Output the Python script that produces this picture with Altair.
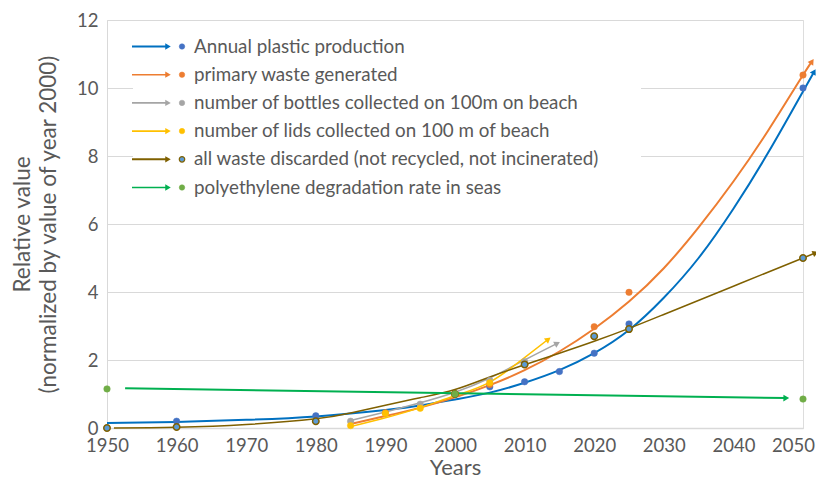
import math
import altair as alt
import pandas as pd

# ---------------- data ----------------
series = [
    "Annual plastic production",
    "primary waste generated",
    "number of bottles collected on 100m on beach",
    "number of lids collected on 100 m of beach",
    "all waste discarded (not recycled, not incinerated)",
    "polyethylene degradation rate in seas",
]
line_colors = ["#0070C0", "#ED7D31", "#A5A5A5", "#FFC000", "#7F6000", "#00B050"]
point_fills = ["#4472C4", "#ED7D31", "#A5A5A5", "#FFC000", "#5B9BD5", "#70AD47"]
point_strokes = ["#4472C4", "#ED7D31", "#A5A5A5", "#FFC000", "#7F6000", "#70AD47"]

# observed points
prod_years = [1960, 1980, 2000, 2005, 2010, 2015, 2020, 2025, 2050]
prod_vals = [0.2, 0.36, 1.0, 1.21, 1.36, 1.66, 2.2, 3.06, 10.0]
waste_years = [1990, 2000, 2005, 2020, 2025, 2050]
waste_vals = [0.45, 1.0, 1.28, 2.98, 3.99, 10.38]
bottle_years = [1985, 1995, 2000, 2005, 2010]
bottle_vals = [0.2, 0.7, 1.0, 1.4, 1.95]
lid_years = [1985, 1990, 1995, 2000, 2005]
lid_vals = [0.07, 0.43, 0.58, 1.0, 1.33]
disc_years = [1950, 1960, 1980, 2000, 2010, 2020, 2025, 2050]
disc_vals = [0.0, 0.03, 0.2, 1.0, 1.87, 2.7, 2.91, 5.0]
pe_years = [1950, 2000, 2050]
pe_vals = [1.15, 1.0, 0.85]

# trendlines
prod_tr_years = [1950, 1960, 1970, 1980, 1990, 1995, 2000, 2005, 2010, 2015, 2020, 2025, 2030, 2035, 2040, 2045, 2050, 2051.6]
prod_tr_vals = [0.15, 0.18, 0.24, 0.34, 0.53, 0.66, 0.84, 1.04, 1.33, 1.7, 2.2, 2.88, 3.83, 5.0, 6.45, 8.1, 9.9, 10.48]
waste_tr_years = [1985, 1990, 1995, 2000, 2005, 2010, 2015, 2020, 2025, 2030, 2035, 2040, 2045, 2050, 2051.3]
waste_tr_vals = [0.12, 0.35, 0.6, 0.9, 1.26, 1.7, 2.25, 2.92, 3.72, 4.7, 5.9, 7.25, 8.75, 10.38, 10.78]
bottle_tr_years = [1985, 1990, 1995, 2000, 2005, 2010, 2014.7]
bottle_tr_vals = [0.22, 0.47, 0.74, 1.05, 1.47, 2.0, 2.49]
lid_tr_years = [1985, 1990, 1995, 2000, 2005, 2010, 2013.4]
lid_tr_vals = [0.04, 0.3, 0.6, 0.95, 1.35, 2.07, 2.61]
disc_tr_years = [1951, 1960, 1970, 1980, 1985, 1990, 1995, 2000, 2005, 2010, 2015, 2020, 2025, 2030, 2040, 2050, 2051.8]
disc_tr_vals = [0.0, 0.02, 0.1, 0.27, 0.44, 0.67, 0.89, 1.13, 1.5, 1.86, 2.2, 2.55, 2.93, 3.34, 4.17, 5.0, 5.15]
pe_tr_years = [1952.6, 2047.6]
pe_tr_vals = [1.17, 0.88]

points = [
    (prod_years, prod_vals), (waste_years, waste_vals), (bottle_years, bottle_vals),
    (lid_years, lid_vals), (disc_years, disc_vals), (pe_years, pe_vals),
]
trends = [
    (prod_tr_years, prod_tr_vals), (waste_tr_years, waste_tr_vals), (bottle_tr_years, bottle_tr_vals),
    (lid_tr_years, lid_tr_vals), (disc_tr_years, disc_tr_vals), (pe_tr_years, pe_tr_vals),
]
line_widths = [2, 2, 1.5, 1.5, 1.5, 2]

# ---------------- layout ----------------
W, H = 696, 408
X_DOM = [1950, 2050]
Y_DOM = [0, 12]
px_year = W / (X_DOM[1] - X_DOM[0])
px_unit = H / (Y_DOM[1] - Y_DOM[0])
FONT = "Lato"
GREY = "#595959"

x_enc = alt.X(
    "year:Q",
    scale=alt.Scale(domain=X_DOM, nice=False, zero=False),
    axis=alt.Axis(
        values=list(range(1950, 2051, 10)), format="d", title="Years", grid=False,
        domainColor="#D9D9D9", domainWidth=1.5, ticks=False, labelFontSize=18.5,
        labelColor=GREY, labelPadding=8, labelFlush=False, labelOverlap=False,
        labelOffset={"condition": {"test": "datum.value == 2050", "value": -10}, "value": 0},
        titleFontSize=22, titleFontWeight="normal", titleBaseline="alphabetic",
        titleY=46, titleColor=GREY, labelFont=FONT, titleFont=FONT,
    ),
)
y_enc = alt.Y(
    "value:Q",
    scale=alt.Scale(domain=Y_DOM, nice=False),
    axis=alt.Axis(
        values=list(range(0, 13, 2)), grid=True, gridColor="#D9D9D9", gridWidth=1,
        domainColor="#D9D9D9", ticks=False, labelFontSize=18.5, labelColor=GREY,
        labelPadding=9, labelFlush=False, title=["Relative value", "(normalized by value of year 2000)"],
        titleFontSize=22.5, titleFontWeight="normal", titleColor=GREY, titleLineHeight=26,
        titlePadding=16, labelFont=FONT, titleFont=FONT,
    ),
)

layers = []

# white legend background (covers gridlines like in the reference)
layers.append(
    alt.Chart(pd.DataFrame({"a": [0]})).mark_rect(color="white").encode(
        x=alt.value(26), x2=alt.value(534), y=alt.value(10), y2=alt.value(180)
    )
)

# trendlines with arrowheads
for i, (ty, tv) in enumerate(trends):
    df = pd.DataFrame({"year": ty, "value": tv})
    layers.append(
        alt.Chart(df).mark_line(
            color=line_colors[i], strokeWidth=line_widths[i], interpolate="natural"
        ).encode(x=x_enc, y=y_enc)
    )
    dx = (ty[-1] - ty[-2]) * px_year
    dy = -(tv[-1] - tv[-2]) * px_unit
    ang = math.degrees(math.atan2(dy, dx)) % 360
    tip = pd.DataFrame({"year": [ty[-1]], "value": [tv[-1]]})
    layers.append(
        alt.Chart(tip).mark_point(
            shape="triangle-right", filled=True, size=45, opacity=1,
            color=line_colors[i], angle=ang,
        ).encode(x=x_enc, y=y_enc)
    )

# observed points
for i, (py_, pv) in enumerate(points):
    df = pd.DataFrame({"year": py_, "value": pv})
    layers.append(
        alt.Chart(df).mark_circle(
            size=42, opacity=1, fill=point_fills[i], stroke=point_strokes[i],
            strokeWidth=1.5 if i == 4 else 0.5,
        ).encode(x=x_enc, y=y_enc)
    )

# custom legend (arrow, dot, label)
for i, name in enumerate(series):
    yy = 26.5 + 28.2 * i
    one = pd.DataFrame({"name": [name]})
    layers.append(
        alt.Chart(one).mark_rule(color=line_colors[i], strokeWidth=2 if i in (0, 4) else 1.6).encode(
            x=alt.value(25), x2=alt.value(60), y=alt.value(yy)
        )
    )
    layers.append(
        alt.Chart(one).mark_point(
            shape="triangle-right", filled=True, size=40, opacity=1, color=line_colors[i]
        ).encode(x=alt.value(61), y=alt.value(yy))
    )
    layers.append(
        alt.Chart(one).mark_circle(
            size=30, opacity=1, fill=point_fills[i], stroke=point_strokes[i],
            strokeWidth=1.2 if i == 4 else 0.5,
        ).encode(x=alt.value(75), y=alt.value(yy))
    )
    layers.append(
        alt.Chart(one).mark_text(
            align="left", baseline="middle", fontSize=18.8, color=GREY, font=FONT
        ).encode(x=alt.value(87), y=alt.value(yy), text="name:N")
    )

chart = (
    alt.layer(*layers)
    .properties(
        width=W, height=H,
        padding={"left": 99, "top": 12, "right": 13, "bottom": 51},
        autosize=alt.AutoSizeParams(type="none"),
    )
    .configure_view(stroke=None)
    .configure(font=FONT)
)

chart.save("out.html", embed_options={"renderer": "svg", "actions": False})
